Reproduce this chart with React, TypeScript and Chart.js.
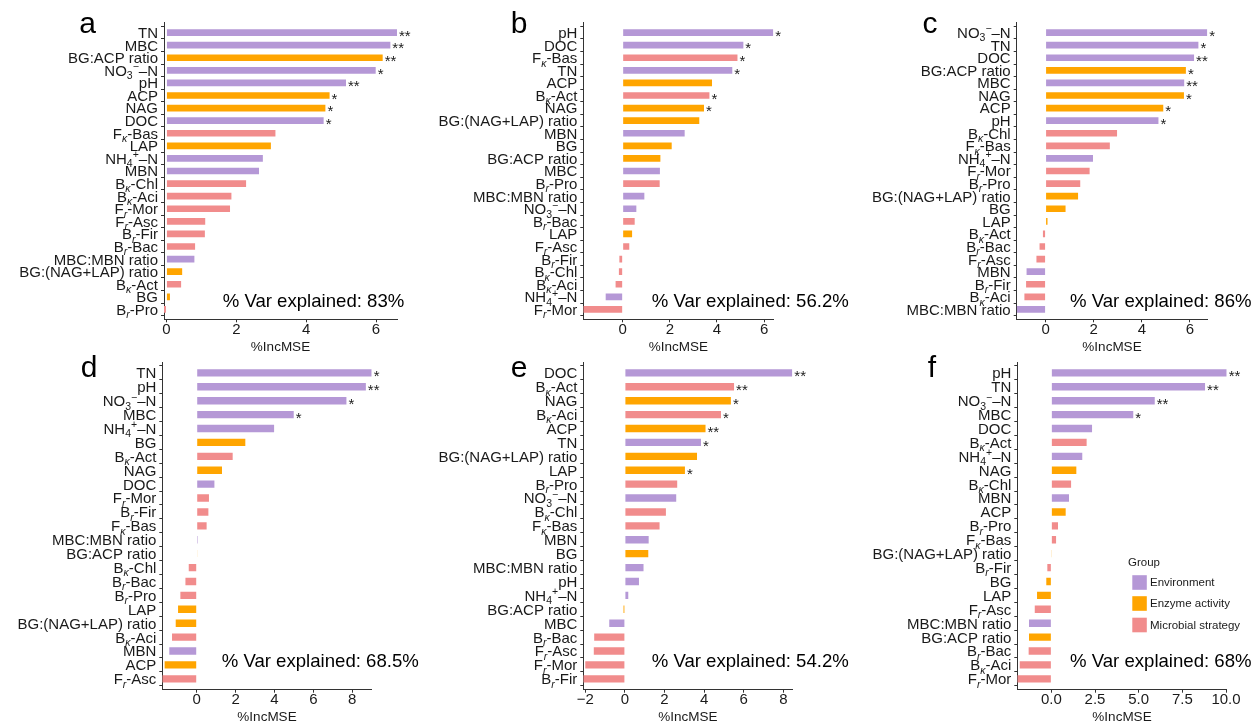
import React, { useEffect, useRef } from 'react';
import { Chart, registerables } from 'chart.js';

Chart.register(...registerables);

const W = 1255;
const H = 723;
const FONT = '"Liberation Sans", Arial, Helvetica, sans-serif';

// ---- groups ----
const groupNames = ['Environment', 'Enzyme activity', 'Microbial strategy'];
const groupColors = ['#B598D6', '#FFA500', '#F18C8C'];
const environmentVars = ['TN', 'MBC', 'NO_3^−–N', 'pH', 'DOC', 'NH_4^+–N', 'MBN', 'MBC:MBN ratio'];
const enzymeVars = ['BG:ACP ratio', 'ACP', 'NAG', 'LAP', 'BG:(NAG+LAP) ratio', 'BG'];
const microbialVars = ['F_κ-Bas', 'B_κ-Chl', 'B_κ-Aci', 'B_κ-Act', 'F_r-Mor', 'F_r-Asc', 'B_r-Fir', 'B_r-Bac', 'B_r-Pro'];

// ---- panel a ----
const aLabels = ['TN', 'MBC', 'BG:ACP ratio', 'NO_3^−–N', 'pH', 'ACP', 'NAG', 'DOC', 'F_κ-Bas', 'LAP', 'NH_4^+–N', 'MBN', 'B_κ-Chl', 'B_κ-Aci', 'F_r-Mor', 'F_r-Asc', 'B_r-Fir', 'B_r-Bac', 'MBC:MBN ratio', 'BG:(NAG+LAP) ratio', 'B_κ-Act', 'BG', 'B_r-Pro'];
const aValues = [6.60, 6.41, 6.19, 5.99, 5.14, 4.67, 4.55, 4.50, 3.12, 2.99, 2.76, 2.65, 2.28, 1.86, 1.82, 1.11, 1.10, 0.82, 0.80, 0.45, 0.42, 0.10, -0.07];
const aStars = ['**', '**', '**', '*', '**', '*', '*', '*', '', '', '', '', '', '', '', '', '', '', '', '', '', '', ''];
const aTicks = [0, 2, 4, 6];

// ---- panel b ----
const bLabels = ['pH', 'DOC', 'F_κ-Bas', 'TN', 'ACP', 'B_κ-Act', 'NAG', 'BG:(NAG+LAP) ratio', 'MBN', 'BG', 'BG:ACP ratio', 'MBC', 'B_r-Pro', 'MBC:MBN ratio', 'NO_3^−–N', 'B_r-Bac', 'LAP', 'F_r-Asc', 'B_r-Fir', 'B_κ-Chl', 'B_κ-Aci', 'NH_4^+–N', 'F_r-Mor'];
const bValues = [6.39, 5.12, 4.87, 4.65, 3.79, 3.68, 3.45, 3.25, 2.63, 2.08, 1.60, 1.58, 1.57, 0.92, 0.58, 0.51, 0.40, 0.28, -0.14, -0.16, -0.30, -0.72, -1.67];
const bStars = ['*', '*', '*', '*', '', '*', '*', '', '', '', '', '', '', '', '', '', '', '', '', '', '', '', ''];
const bTicks = [0, 2, 4, 6];

// ---- panel c ----
const cLabels = ['NO_3^−–N', 'TN', 'DOC', 'BG:ACP ratio', 'MBC', 'NAG', 'ACP', 'pH', 'B_κ-Chl', 'F_κ-Bas', 'NH_4^+–N', 'F_r-Mor', 'B_r-Pro', 'BG:(NAG+LAP) ratio', 'BG', 'LAP', 'B_κ-Act', 'B_r-Bac', 'F_r-Asc', 'MBN', 'B_r-Fir', 'B_κ-Aci', 'MBC:MBN ratio'];
const cValues = [6.72, 6.35, 6.17, 5.83, 5.76, 5.75, 4.89, 4.69, 2.97, 2.67, 1.97, 1.83, 1.44, 1.35, 0.83, 0.08, -0.11, -0.25, -0.38, -0.79, -0.81, -0.88, -1.20];
const cStars = ['*', '*', '**', '*', '**', '*', '*', '*', '', '', '', '', '', '', '', '', '', '', '', '', '', '', ''];
const cTicks = [0, 2, 4, 6];

// ---- panel d ----
const dLabels = ['TN', 'pH', 'NO_3^−–N', 'MBC', 'NH_4^+–N', 'BG', 'B_κ-Act', 'NAG', 'DOC', 'F_r-Mor', 'B_r-Fir', 'F_κ-Bas', 'MBC:MBN ratio', 'BG:ACP ratio', 'B_κ-Chl', 'B_r-Bac', 'B_r-Pro', 'LAP', 'BG:(NAG+LAP) ratio', 'B_κ-Aci', 'MBN', 'ACP', 'F_r-Asc'];
const dValues = [9.00, 8.70, 7.70, 4.99, 3.98, 2.50, 1.85, 1.30, 0.91, 0.63, 0.60, 0.51, 0.05, 0.03, -0.41, -0.58, -0.84, -0.96, -1.08, -1.27, -1.41, -1.65, -1.77];
const dStars = ['*', '**', '*', '*', '', '', '', '', '', '', '', '', '', '', '', '', '', '', '', '', '', '', ''];
const dTicks = [0, 2, 4, 6, 8];

// ---- panel e ----
const eLabels = ['DOC', 'B_κ-Act', 'NAG', 'B_κ-Aci', 'ACP', 'TN', 'BG:(NAG+LAP) ratio', 'LAP', 'B_r-Pro', 'NO_3^−–N', 'B_κ-Chl', 'F_κ-Bas', 'MBN', 'BG', 'MBC:MBN ratio', 'pH', 'NH_4^+–N', 'BG:ACP ratio', 'MBC', 'B_r-Bac', 'F_r-Asc', 'F_r-Mor', 'B_r-Fir'];
const eValues = [8.45, 5.51, 5.35, 4.85, 4.07, 3.84, 3.64, 3.03, 2.64, 2.59, 2.07, 1.75, 1.20, 1.18, 0.94, 0.71, 0.17, -0.07, -0.79, -1.55, -1.57, -2.00, -2.10];
const eStars = ['**', '**', '*', '*', '**', '*', '', '*', '', '', '', '', '', '', '', '', '', '', '', '', '', '', ''];
const eTicks = [-2, 0, 2, 4, 6, 8];

// ---- panel f ----
const fLabels = ['pH', 'TN', 'NO_3^−–N', 'MBC', 'DOC', 'B_κ-Act', 'NH_4^+–N', 'NAG', 'B_κ-Chl', 'MBN', 'ACP', 'B_r-Pro', 'F_κ-Bas', 'BG:(NAG+LAP) ratio', 'B_r-Fir', 'BG', 'LAP', 'F_r-Asc', 'MBC:MBN ratio', 'BG:ACP ratio', 'B_r-Bac', 'B_κ-Aci', 'F_r-Mor'];
const fValues = [10.04, 8.80, 5.92, 4.69, 2.33, 2.02, 1.77, 1.43, 1.13, 1.01, 0.82, 0.38, 0.27, 0.02, -0.23, -0.29, -0.82, -0.95, -1.28, -1.28, -1.30, -1.81, -1.95];
const fStars = ['**', '**', '**', '*', '', '', '', '', '', '', '', '', '', '', '', '', '', '', '', '', '', '', ''];
const fTicks = [0, 2.5, 5, 7.5, 10];

const panelLetters = ['a', 'b', 'c', 'd', 'e', 'f'];
const varExplained = ['% Var explained: 83%', '% Var explained: 56.2%', '% Var explained: 86%', '% Var explained: 68.5%', '% Var explained: 54.2%', '% Var explained: 68%'];
const xTitle = '%IncMSE';

// layout (page pixels)
const layouts = [
  { left: 164, right: 397, top: 22.7, bottom: 319.3, letterX: 87.5, letterY: 33.3, noteX: 222.7, noteY: 307, dec: 0 },
  { left: 583.3, right: 773.3, top: 22.7, bottom: 319.3, letterX: 519, letterY: 33.3, noteX: 651.7, noteY: 307, dec: 0 },
  { left: 1016.7, right: 1207.3, top: 22.7, bottom: 319.3, letterX: 930, letterY: 33.3, noteX: 1070, noteY: 307, dec: 0 },
  { left: 162.3, right: 371.7, top: 362, bottom: 689.7, letterX: 89, letterY: 376.7, noteX: 221.7, noteY: 667.3, dec: 0 },
  { left: 583.3, right: 792.3, top: 362, bottom: 689.7, letterX: 519, letterY: 377, noteX: 651.7, noteY: 667.3, dec: 0 },
  { left: 1017.3, right: 1226.7, top: 362, bottom: 689.7, letterX: 932, letterY: 376.7, noteX: 1070, noteY: 667.3, dec: 1 },
];

const panels = [
  { labels: aLabels, values: aValues, stars: aStars, ticks: aTicks },
  { labels: bLabels, values: bValues, stars: bStars, ticks: bTicks },
  { labels: cLabels, values: cValues, stars: cStars, ticks: cTicks },
  { labels: dLabels, values: dValues, stars: dStars, ticks: dTicks },
  { labels: eLabels, values: eValues, stars: eStars, ticks: eTicks },
  { labels: fLabels, values: fValues, stars: fStars, ticks: fTicks },
];

function groupIndex(label: string): number {
  if (environmentVars.includes(label)) return 0;
  if (enzymeVars.includes(label)) return 1;
  return 2;
}

type Seg = { t: string; k: 'n' | 'sub' | 'sup' };
function parseRich(s: string): Seg[] {
  const segs: Seg[] = [];
  let buf = '';
  for (let i = 0; i < s.length; i++) {
    const c = s[i];
    if ((c === '_' || c === '^') && i + 1 < s.length) {
      if (buf) { segs.push({ t: buf, k: 'n' }); buf = ''; }
      segs.push({ t: s[i + 1], k: c === '_' ? 'sub' : 'sup' });
      i++;
    } else buf += c;
  }
  if (buf) segs.push({ t: buf, k: 'n' });
  return segs;
}

const LABEL_SIZE = 15;
function segFont(seg: Seg): string {
  if (seg.k === 'n') return `${LABEL_SIZE}px ${FONT}`;
  const italic = /[a-zκ]/.test(seg.t) ? 'italic ' : '';
  return `${italic}10.5px ${FONT}`;
}

function drawRich(ctx: CanvasRenderingContext2D, s: string, rightX: number, baseY: number) {
  const segs = parseRich(s);
  let total = 0;
  const widths = segs.map((sg) => {
    ctx.font = segFont(sg);
    const w = ctx.measureText(sg.t).width;
    total += w;
    return w;
  });
  let x = rightX - total;
  ctx.textAlign = 'left';
  ctx.textBaseline = 'alphabetic';
  segs.forEach((sg, i) => {
    ctx.font = segFont(sg);
    const dy = sg.k === 'sub' ? 3.5 : sg.k === 'sup' ? -5.5 : 0;
    ctx.fillText(sg.t, x, baseY + dy);
    x += widths[i];
  });
}

function fmtTick(v: number, dec: number): string {
  const s = Math.abs(v).toFixed(dec);
  return v < 0 ? '\u2212' + s : s;
}

function makeChart(canvas: HTMLCanvasElement, idx: number): Chart {
  const p = panels[idx];
  const L = layouts[idx];
  const n = p.labels.length;
  const xmin = Math.min(...p.values);
  const xmax = Math.max(...p.values);
  const axisColor = '#333333';
  const textColor = '#1a1a1a';

  const decor = {
    id: 'decor' + idx,
    afterDraw(chart: any) {
      const ctx: CanvasRenderingContext2D = chart.ctx;
      const xs = chart.scales.x;
      const ys = chart.scales.y;
      const area = chart.chartArea;
      ctx.save();
      ctx.fillStyle = textColor;
      // category labels
      p.labels.forEach((lab, i) => {
        const y = ys.getPixelForValue(i);
        drawRich(ctx, lab, area.left - 6, y + 5.4);
      });
      // significance stars
      ctx.font = `15px ${FONT}`;
      ctx.textAlign = 'left';
      ctx.textBaseline = 'alphabetic';
      p.values.forEach((v, i) => {
        const st = p.stars[i];
        if (!st) return;
        ctx.fillText(st, xs.getPixelForValue(Math.max(v, 0)) + 2, ys.getPixelForValue(i) + 8.3);
      });
      // x tick labels
      ctx.font = `15px ${FONT}`;
      ctx.textAlign = 'center';
      p.ticks.forEach((t) => {
        ctx.fillText(fmtTick(t, L.dec), xs.getPixelForValue(t), area.bottom + 14.5);
      });
      // axis title
      ctx.font = `13.5px ${FONT}`;
      ctx.fillText(xTitle, (area.left + area.right) / 2, area.bottom + 31.7);
      // panel letter
      ctx.fillStyle = '#000';
      ctx.font = `30px ${FONT}`;
      ctx.fillText(panelLetters[idx], L.letterX, L.letterY);
      // var explained
      ctx.font = `18.6px ${FONT}`;
      ctx.textAlign = 'left';
      ctx.fillText(varExplained[idx], L.noteX, L.noteY);
      // legend (panel f)
      if (idx === 5) {
        ctx.font = `11.5px ${FONT}`;
        ctx.fillStyle = textColor;
        ctx.fillText('Group', 1128, 566);
        const cys = [582.5, 603.5, 625];
        groupNames.forEach((g, gi) => {
          ctx.fillStyle = groupColors[gi];
          ctx.fillRect(1132.3, cys[gi] - 7.3, 14.5, 14.6);
          ctx.fillStyle = textColor;
          ctx.textBaseline = 'middle';
          ctx.fillText(g, 1150, cys[gi] + 0.5);
          ctx.textBaseline = 'alphabetic';
        });
      }
      ctx.restore();
    },
  };

  return new Chart(canvas, {
    type: 'bar',
    data: {
      datasets: [
        {
          data: p.values.map((v, i) => ({ x: v, y: i })),
          backgroundColor: p.labels.map((l) => groupColors[groupIndex(l)]),
          borderWidth: 0,
          barPercentage: 0.53,
          categoryPercentage: 1,
        } as any,
      ],
    },
    options: {
      indexAxis: 'y',
      responsive: false,
      animation: false,
      devicePixelRatio: 1,
      layout: {
        padding: { left: L.left, right: W - L.right, top: L.top, bottom: H - L.bottom },
      },
      plugins: { legend: { display: false }, tooltip: { enabled: false }, title: { display: false } },
      scales: {
        x: {
          type: 'linear',
          position: 'bottom',
          min: xmin,
          max: xmax,
          grid: { display: true, drawOnChartArea: false, drawTicks: true, tickLength: 3, color: axisColor, lineWidth: 1 },
          border: { display: true, color: axisColor, width: 1 },
          ticks: { display: false },
          afterBuildTicks: (s: any) => { s.ticks = p.ticks.map((v) => ({ value: v })); },
          afterFit: (s: any) => { s.height = 0; },
        },
        y: {
          type: 'linear',
          position: 'left',
          reverse: true,
          min: -0.27,
          max: n - 1 + 0.27,
          grid: { display: true, drawOnChartArea: false, drawTicks: true, tickLength: 3, color: axisColor, lineWidth: 1 },
          border: { display: true, color: axisColor, width: 1 },
          ticks: { display: false },
          afterBuildTicks: (s: any) => { s.ticks = p.labels.map((_, i) => ({ value: i })); },
          afterFit: (s: any) => { s.width = 0; },
        },
      },
    } as any,
    plugins: [decor],
  });
}

export default function App() {
  const refs = useRef<(HTMLCanvasElement | null)[]>([]);
  useEffect(() => {
    const charts: Chart[] = [];
    refs.current.forEach((c, i) => {
      if (c) charts.push(makeChart(c, i));
    });
    return () => charts.forEach((ch) => ch.destroy());
  }, []);
  return (
    <div style={{ position: 'absolute', left: 0, top: 0, width: W, height: H, background: '#fff', overflow: 'hidden' }}>
      {panels.map((_, i) => (
        <canvas
          key={i}
          ref={(el) => { refs.current[i] = el; }}
          width={W}
          height={H}
          style={{ position: 'absolute', left: 0, top: 0, width: W, height: H }}
        />
      ))}
    </div>
  );
}
